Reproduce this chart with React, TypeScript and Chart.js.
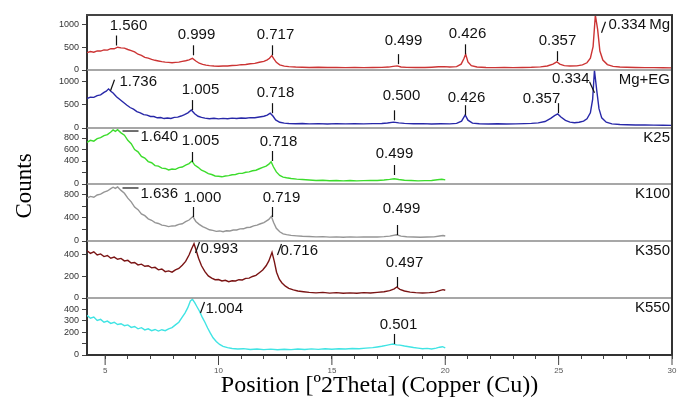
import { useEffect, useRef } from 'react';
import { Chart, registerables } from 'chart.js';

Chart.register(...registerables);

// ---------- data (2θ, counts) ----------
const SAMPLE_NAMES = ['Mg', 'Mg+EG', 'K25', 'K100', 'K350', 'K550'];
const SAMPLE_COLORS = ['#cc3434', '#2828a8', '#3cdc2c', '#959595', '#7a1414', '#40e4e4'];

const MG: [number, number][] = [
  [4.2,385],[4.35,410],[4.5,395],[4.65,425],[4.8,420],[4.95,445],[5.1,440],[5.25,475],[5.4,470],[5.55,505],[5.7,490],[5.85,485],[6.0,455],[6.15,430],[6.3,400],[6.45,350],[6.6,325],[6.75,280],[6.9,265],[7.05,235],[7.2,215],[7.35,200],[7.5,185],[7.65,175],[7.8,170],[7.95,160],[8.1,170],[8.25,175],[8.4,190],[8.55,205],[8.7,225],[8.85,258],[9.0,200],[9.15,150],[9.3,125],[9.45,108],[9.6,98],[9.8,88],[10.0,84],[10.2,90],[10.4,88],[10.6,100],[10.8,102],[11.0,118],[11.2,122],[11.4,140],[11.6,148],[11.8,172],[12.0,190],[12.15,225],[12.25,260],[12.35,320],[12.45,240],[12.55,170],[12.7,115],[12.9,85],[13.1,74],[13.4,66],[13.7,62],[14.0,57],[14.4,60],[14.8,54],[15.2,57],[15.6,52],[16.0,56],[16.4,53],[16.8,57],[17.2,58],[17.5,65],[17.7,80],[17.88,92],[18.05,68],[18.3,58],[18.7,54],[19.1,55],[19.4,62],[19.7,72],[19.95,74],[20.2,66],[20.5,74],[20.7,130],[20.82,250],[20.9,352],[21.0,180],[21.15,95],[21.4,66],[21.8,57],[22.2,53],[22.6,56],[23.0,52],[23.4,57],[23.8,60],[24.2,70],[24.5,88],[24.75,130],[24.92,182],[25.05,130],[25.25,98],[25.5,88],[25.8,92],[26.05,115],[26.25,160],[26.4,260],[26.52,520],[26.62,1215],[26.72,900],[26.82,420],[26.95,220],[27.15,120],[27.4,80],[27.7,66],[28.0,60],[28.4,56],[28.8,53],[29.2,52],[29.6,49],[30.0,48]
];
const MG_EG: [number, number][] = [
  [4.2,640],[4.35,670],[4.5,665],[4.65,705],[4.8,720],[4.95,775],[5.05,800],[5.15,850],[5.25,800],[5.35,760],[5.5,680],[5.65,620],[5.8,560],[5.95,500],[6.1,445],[6.25,410],[6.4,355],[6.55,330],[6.7,290],[6.85,280],[7.0,250],[7.15,250],[7.3,222],[7.45,228],[7.6,205],[7.75,218],[7.9,208],[8.05,230],[8.2,235],[8.35,260],[8.5,290],[8.65,330],[8.8,392],[8.95,310],[9.1,255],[9.25,230],[9.4,215],[9.6,200],[9.8,212],[10.0,198],[10.2,210],[10.4,202],[10.6,214],[10.8,205],[11.0,218],[11.2,212],[11.4,225],[11.6,222],[11.8,240],[12.0,255],[12.15,280],[12.28,322],[12.4,260],[12.52,175],[12.7,125],[12.9,105],[13.1,98],[13.4,92],[13.7,98],[14.0,90],[14.4,95],[14.8,88],[15.2,94],[15.6,89],[16.0,95],[16.4,90],[16.8,96],[17.2,98],[17.45,110],[17.72,128],[17.95,112],[18.2,100],[18.6,92],[19.0,95],[19.4,88],[19.8,92],[20.2,90],[20.5,100],[20.72,150],[20.88,285],[21.0,170],[21.2,105],[21.5,92],[21.9,88],[22.3,92],[22.7,86],[23.1,90],[23.5,94],[23.8,100],[24.1,112],[24.4,140],[24.65,210],[24.82,270],[24.96,305],[25.1,240],[25.3,165],[25.5,128],[25.7,115],[25.9,125],[26.1,150],[26.25,200],[26.4,330],[26.5,620],[26.58,1255],[26.68,820],[26.78,420],[26.9,220],[27.1,125],[27.35,90],[27.7,75],[28.0,70],[28.4,66],[28.8,64],[29.2,62],[29.6,60],[30.0,58]
];
const K25: [number, number][] = [
  [4.2,725],[4.35,760],[4.5,745],[4.65,790],[4.8,805],[4.95,840],[5.1,860],[5.25,905],[5.35,940],[5.45,915],[5.55,945],[5.7,890],[5.85,850],[6.0,760],[6.15,700],[6.3,600],[6.45,560],[6.6,480],[6.75,450],[6.9,390],[7.05,370],[7.2,320],[7.35,310],[7.5,275],[7.65,270],[7.8,245],[7.95,260],[8.1,255],[8.25,285],[8.4,295],[8.55,330],[8.7,355],[8.83,400],[8.95,330],[9.1,290],[9.25,240],[9.4,215],[9.55,180],[9.7,165],[9.85,140],[10.0,135],[10.15,125],[10.3,140],[10.45,145],[10.6,160],[10.75,165],[10.9,185],[11.05,185],[11.2,205],[11.35,210],[11.5,230],[11.65,240],[11.8,265],[11.95,290],[12.1,310],[12.22,345],[12.32,388],[12.42,300],[12.55,210],[12.7,150],[12.85,120],[13.0,108],[13.2,95],[13.45,85],[13.7,78],[14.0,70],[14.3,62],[14.6,66],[14.9,57],[15.2,60],[15.5,55],[15.8,60],[16.1,54],[16.4,58],[16.7,60],[17.0,62],[17.3,70],[17.55,80],[17.75,92],[17.95,78],[18.2,66],[18.5,60],[18.8,55],[19.1,58],[19.4,62],[19.65,75],[19.85,82],[20.0,72]
];
const K100: [number, number][] = [
  [4.2,745],[4.35,775],[4.5,760],[4.65,800],[4.8,815],[4.95,850],[5.1,870],[5.25,910],[5.35,935],[5.45,915],[5.55,940],[5.7,880],[5.85,830],[6.0,745],[6.15,680],[6.3,590],[6.45,545],[6.6,470],[6.75,440],[6.9,385],[7.05,360],[7.2,320],[7.35,305],[7.5,275],[7.65,268],[7.8,250],[7.95,262],[8.1,265],[8.25,290],[8.4,300],[8.55,335],[8.7,365],[8.87,425],[9.0,340],[9.15,290],[9.3,250],[9.45,225],[9.6,195],[9.75,185],[9.9,168],[10.05,175],[10.2,162],[10.35,178],[10.5,175],[10.65,190],[10.8,192],[10.95,210],[11.1,212],[11.25,235],[11.4,240],[11.55,262],[11.7,275],[11.85,300],[12.0,320],[12.12,350],[12.22,375],[12.33,428],[12.43,320],[12.55,220],[12.7,160],[12.85,125],[13.0,110],[13.2,98],[13.45,90],[13.7,82],[14.0,78],[14.3,72],[14.6,76],[14.9,68],[15.2,72],[15.5,66],[15.8,72],[16.1,67],[16.4,70],[16.7,72],[17.0,70],[17.3,76],[17.55,85],[17.85,108],[18.05,85],[18.3,75],[18.6,70],[18.9,66],[19.2,70],[19.5,72],[19.75,88],[19.9,95],[20.0,86]
];
const K350: [number, number][] = [
  [4.2,440],[4.35,415],[4.5,430],[4.65,400],[4.8,410],[4.95,385],[5.1,395],[5.25,370],[5.4,380],[5.55,360],[5.7,368],[5.85,345],[6.0,350],[6.15,325],[6.3,330],[6.45,308],[6.6,315],[6.75,295],[6.9,300],[7.05,280],[7.2,285],[7.35,262],[7.5,270],[7.65,245],[7.8,252],[7.95,240],[8.1,262],[8.25,275],[8.4,305],[8.55,340],[8.7,400],[8.82,460],[8.92,505],[9.02,440],[9.12,370],[9.25,300],[9.4,245],[9.55,205],[9.7,185],[9.85,170],[10.0,172],[10.15,158],[10.3,165],[10.45,152],[10.6,160],[10.75,158],[10.9,170],[11.05,168],[11.2,182],[11.35,185],[11.5,200],[11.65,210],[11.8,235],[11.95,260],[12.1,300],[12.22,345],[12.36,425],[12.46,340],[12.56,240],[12.68,175],[12.8,140],[12.95,110],[13.1,90],[13.3,75],[13.5,65],[13.75,58],[14.0,52],[14.3,48],[14.6,52],[14.9,45],[15.2,50],[15.5,44],[15.8,48],[16.1,44],[16.4,50],[16.7,47],[17.0,52],[17.3,58],[17.55,68],[17.75,85],[17.86,102],[18.0,80],[18.2,65],[18.45,55],[18.7,50],[19.0,46],[19.3,50],[19.55,55],[19.75,68],[19.9,78],[20.0,72]
];
const K550: [number, number][] = [
  [4.2,345],[4.35,320],[4.5,330],[4.65,300],[4.8,310],[4.95,285],[5.1,295],[5.25,275],[5.4,285],[5.55,265],[5.7,272],[5.85,255],[6.0,262],[6.15,240],[6.3,248],[6.45,228],[6.6,238],[6.75,218],[6.9,228],[7.05,212],[7.2,222],[7.35,208],[7.5,220],[7.65,212],[7.8,228],[7.95,238],[8.1,262],[8.25,285],[8.4,330],[8.52,365],[8.64,410],[8.76,470],[8.85,485],[8.95,455],[9.05,420],[9.15,385],[9.28,330],[9.4,285],[9.52,235],[9.64,190],[9.76,150],[9.9,118],[10.05,92],[10.2,75],[10.4,64],[10.6,57],[10.85,52],[11.1,55],[11.4,48],[11.7,52],[12.0,47],[12.3,51],[12.6,46],[12.9,50],[13.2,47],[13.5,52],[13.8,48],[14.1,53],[14.4,49],[14.7,54],[15.0,50],[15.3,55],[15.6,52],[15.9,57],[16.2,55],[16.5,60],[16.8,64],[17.0,70],[17.2,76],[17.4,84],[17.55,90],[17.7,95],[17.85,88],[18.0,86],[18.2,78],[18.4,72],[18.6,65],[18.8,60],[19.0,55],[19.2,58],[19.4,52],[19.6,60],[19.75,68],[19.88,72],[20.0,62]
];
const SERIES = [MG, MG_EG, K25, K100, K350, K550];

// axis settings per panel
const PANEL_MAX = [1220, 1260, 974, 991, 530, 496];
const PANEL_TICKS: number[][] = [
  [0, 500, 1000],
  [0, 500, 1000],
  [0, 200, 400, 600, 800],
  [0, 200, 400, 600, 800],
  [0, 200, 400],
  [0, 100, 200, 300, 400],
];
const HIDDEN_TICKS: number[][] = [[], [], [200], [200, 600], [], [100]];
const THETA_MIN = 4.2;
const THETA_MAX = 30;

// peak annotations (d-spacing, nm)
type PeakLabel = { panel: number; x: number; y: number; text: string; kind: 'v' | 'slash' | 'back' | 'h'; dx?: number; dy?: number };
const PEAK_LABELS: PeakLabel[] = [
  { panel: 0, x: 5.49, y: 543, text: '1.560', kind: 'v', dx: 12 },
  { panel: 0, x: 8.885, y: 326, text: '0.999', kind: 'v', dx: 3 },
  { panel: 0, x: 12.35, y: 326, text: '0.717', kind: 'v', dx: 3 },
  { panel: 0, x: 17.91, y: 130, text: '0.499', kind: 'v', dx: 5, dy: -3 },
  { panel: 0, x: 20.89, y: 348, text: '0.426', kind: 'v', dx: 2 },
  { panel: 0, x: 24.91, y: 196, text: '0.357', kind: 'v' },
  { panel: 0, x: 26.85, y: 826, text: '0.334', kind: 'slash', dx: 2, dy: -4 },
  { panel: 1, x: 5.22, y: 810, text: '1.736', kind: 'slash', dx: 4, dy: -5 },
  { panel: 1, x: 8.84, y: 389, text: '1.005', kind: 'v', dx: 8 },
  { panel: 1, x: 12.37, y: 322, text: '0.718', kind: 'v', dx: 3 },
  { panel: 1, x: 17.72, y: 167, text: '0.500', kind: 'v', dx: 7, dy: -4 },
  { panel: 1, x: 20.89, y: 278, text: '0.426', kind: 'v', dx: 1, dy: 3 },
  { panel: 1, x: 24.96, y: 322, text: '0.357', kind: 'v', dx: -17, dy: 6 },
  { panel: 1, x: 26.55, y: 766, text: '0.334', kind: 'back' },
  { panel: 2, x: 5.44, y: 939, text: '1.640', kind: 'h' },
  { panel: 2, x: 8.84, y: 383, text: '1.005', kind: 'v', dx: 8, dy: -1 },
  { panel: 2, x: 12.37, y: 400, text: '0.718', kind: 'v', dx: 6, dy: 1 },
  { panel: 2, x: 17.72, y: 157, text: '0.499', kind: 'v', dy: -1 },
  { panel: 3, x: 5.44, y: 939, text: '1.636', kind: 'h' },
  { panel: 3, x: 8.885, y: 417, text: '1.000', kind: 'v', dx: 9, dy: 1 },
  { panel: 3, x: 12.37, y: 417, text: '0.719', kind: 'v', dx: 9, dy: 1 },
  { panel: 3, x: 17.85, y: 104, text: '0.499', kind: 'v', dx: 4, dy: -6 },
  { panel: 4, x: 8.97, y: 419, text: '0.993', kind: 'slash' },
  { panel: 4, x: 12.59, y: 400, text: '0.716', kind: 'slash', dx: -2 },
  { panel: 4, x: 17.85, y: 102, text: '0.497', kind: 'v', dx: 7, dy: -4 },
  { panel: 5, x: 9.19, y: 365, text: '1.004', kind: 'slash' },
  { panel: 5, x: 17.72, y: 96, text: '0.501', kind: 'v', dx: 4, dy: 1 },
];

const X_TITLE = 'Position [º2Theta] (Copper (Cu))';
const Y_TITLE = 'Counts';

const SANS = '"Liberation Sans", Arial, sans-serif';
const SERIF = '"Liberation Serif", "Times New Roman", serif';

const overlay = {
  id: 'xrdOverlay',
  afterDraw(chart: any) {
    const ctx: CanvasRenderingContext2D = chart.ctx;
    const ca = chart.chartArea;
    const xs = chart.scales.x;
    const line = (x1: number, y1: number, x2: number, y2: number, color: string, w: number) => {
      ctx.beginPath();
      ctx.strokeStyle = color;
      ctx.lineWidth = w;
      ctx.moveTo(x1, y1);
      ctx.lineTo(x2, y2);
      ctx.stroke();
    };
    ctx.save();
    // panel separators
    for (let i = 0; i < SERIES.length - 1; i++) {
      const s = chart.scales['y' + i];
      line(ca.left, s.bottom, ca.right, s.bottom, '#8a8a8a', 1.5);
    }
    // frame
    line(ca.left - 1, ca.top, ca.right + 1, ca.top, '#444', 2);
    line(ca.right, ca.top, ca.right, ca.bottom, '#333', 2);
    // longer major ticks on x
    for (const t of xs.ticks) {
      if (t.value % 5 === 0) {
        const px = xs.getPixelForValue(t.value);
        line(px, ca.bottom, px, ca.bottom + 10, '#444', 1);
      }
    }
    // peak labels
    ctx.font = '15px ' + SANS;
    ctx.fillStyle = '#111';
    for (const lb of PEAK_LABELS) {
      const ys = chart.scales['y' + lb.panel];
      const px = Math.round(xs.getPixelForValue(lb.x)) + 0.5;
      const py = ys.getPixelForValue(lb.y);
      const dx = lb.dx || 0;
      const dy = lb.dy || 0;
      ctx.textBaseline = 'alphabetic';
      if (lb.kind === 'v') {
        line(px, py, px, py - 10, '#111', 1.2);
        ctx.textAlign = 'center';
        ctx.fillText(lb.text, px + dx, py - 16 + dy);
      } else if (lb.kind === 'slash') {
        line(px, py, px + 4, py - 11, '#111', 1.2);
        ctx.textAlign = 'left';
        ctx.fillText(lb.text, px + 5 + dx, py + dy);
      } else if (lb.kind === 'back') {
        line(px, py, px - 5, py - 11, '#111', 1.2);
        ctx.textAlign = 'right';
        ctx.fillText(lb.text, px - 5 + dx, py - 10 + dy);
      } else {
        line(px + 7, py + 1, px + 23, py + 1, '#111', 1.2);
        ctx.textAlign = 'left';
        ctx.fillText(lb.text, px + 25 + dx, py + 11 + dy);
      }
    }
    // sample names
    ctx.textAlign = 'right';
    SAMPLE_NAMES.forEach((name, i) => {
      const s = chart.scales['y' + i];
      ctx.fillText(name, ca.right - 2, s.top + 14);
    });
    // axis titles
    ctx.fillStyle = '#000';
    ctx.font = '24px ' + SERIF;
    ctx.textAlign = 'center';
    ctx.textBaseline = 'alphabetic';
    ctx.fillText(X_TITLE, (ca.left + ca.right) / 2, 392);
    ctx.save();
    ctx.translate(31, (ca.top + ca.bottom) / 2 + 1);
    ctx.rotate(-Math.PI / 2);
    ctx.font = '23px ' + SERIF;
    ctx.fillText(Y_TITLE, 0, 0);
    ctx.restore();
    ctx.restore();
  },
};

export default function App() {
  const ref = useRef<HTMLCanvasElement | null>(null);
  useEffect(() => {
    document.body.style.margin = '0';
    const canvas = ref.current;
    if (!canvas) return;
    const panelWeights = [55, 58, 56, 57, 57, 57];
    const scales: any = {
      x: {
        type: 'linear',
        position: 'bottom',
        min: THETA_MIN,
        max: THETA_MAX,
        ticks: {
          stepSize: 1,
          includeBounds: false,
          autoSkip: false,
          maxRotation: 0,
          padding: 7,
          color: '#555',
          font: { family: SANS, size: 8 },
          callback: (v: number) => (v % 5 === 0 ? String(v) : ''),
        },
        grid: { drawOnChartArea: false, drawTicks: true, tickLength: 4, color: '#444', lineWidth: 1 },
        border: { display: true, color: '#333', width: 2 },
        afterFit: (s: any) => { s.height = 43; },
      },
    };
    PANEL_MAX.forEach((max, i) => {
      scales['y' + i] = {
        type: 'linear',
        position: 'left',
        stack: 'panels',
        stackWeight: panelWeights[i],
        weight: 10 - i,
        offset: false,
        min: 0,
        max,
        afterBuildTicks: (s: any) => {
          s.ticks = PANEL_TICKS[i].map((v) => ({ value: v }));
        },
        ticks: {
          autoSkip: false,
          padding: 3,
          color: '#333',
          font: { family: SANS, size: 9 },
          callback: (v: number) => (HIDDEN_TICKS[i].includes(v) ? '' : String(v)),
        },
        grid: { drawOnChartArea: false, drawTicks: true, tickLength: 5, color: '#444', lineWidth: 1 },
        border: { display: true, color: '#333', width: 2 },
        afterFit: (s: any) => { s.width = 45; },
      };
    });
    const chart = new Chart(canvas, {
      type: 'line',
      data: {
        datasets: SERIES.map((pts, i) => ({
          label: SAMPLE_NAMES[i],
          data: pts.map(([x, y]) => ({ x, y })),
          yAxisID: 'y' + i,
          borderColor: SAMPLE_COLORS[i],
          backgroundColor: SAMPLE_COLORS[i],
          borderWidth: 1.4,
          pointRadius: 0,
          tension: 0,
          fill: false,
        })),
      },
      options: {
        animation: false,
        responsive: false,
        devicePixelRatio: 1,
        layout: { padding: { left: 42, right: 17, top: 15, bottom: 0 } },
        plugins: { legend: { display: false }, tooltip: { enabled: false } },
        scales,
      },
      plugins: [overlay],
    } as any);
    return () => chart.destroy();
  }, []);
  return (
    <div style={{ position: 'absolute', left: 0, top: 0, width: 689, height: 398, background: '#fff' }}>
      <canvas ref={ref} width={689} height={398} />
    </div>
  );
}
